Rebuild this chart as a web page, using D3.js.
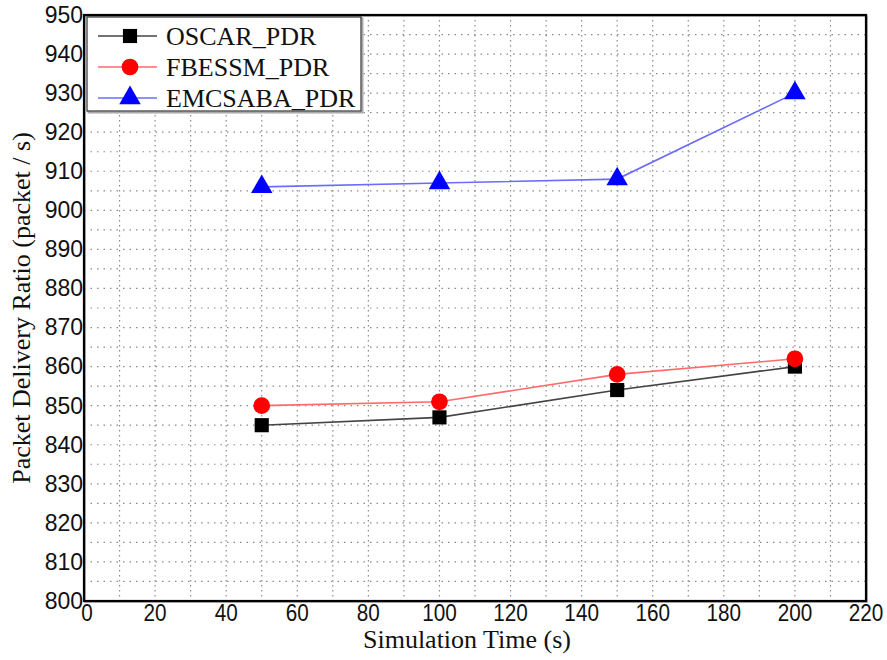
<!DOCTYPE html>
<html>
<head>
<meta charset="utf-8">
<script src="https://cdn.jsdelivr.net/npm/d3@7"></script>
<style>
  html, body { margin: 0; padding: 0; background: #fff; }
  svg { display: block; }
</style>
</head>
<body>
<div id="chart"></div>
<script>
const simulationTime = [50, 100, 150, 200];
const oscarPDR = [845, 847, 854, 860];
const fbessmPDR = [850, 851, 858, 862];
const emcsabaPDR = [906, 907, 908, 930];
const seriesNames = ["OSCAR_PDR", "FBESSM_PDR", "EMCSABA_PDR"];
const xTicks = [0, 20, 40, 60, 80, 100, 120, 140, 160, 180, 200, 220];
const yTicks = [800, 810, 820, 830, 840, 850, 860, 870, 880, 890, 900, 910, 920, 930, 940, 950];
const xLabel = "Simulation Time (s)";
const yLabel = "Packet Delivery Ratio (packet / s)";

const W = 887, H = 660;
const m = { left: 84, right: 21, top: 15, bottom: 59 };
const iw = W - m.left - m.right, ih = H - m.top - m.bottom;

const svg = d3.select("#chart").append("svg").attr("width", W).attr("height", H);
const g = svg.append("g").attr("transform", `translate(${m.left},${m.top})`);

const x = d3.scaleLinear().domain([0, 220]).range([0, iw]);
const y = d3.scaleLinear().domain([800, 950]).range([ih, 0]);

// grid
const gridX = d3.range(10, 220, 10);
const gridY = d3.range(805, 950, 5);
g.append("g").selectAll("line").data(gridX).join("line")
  .attr("x1", d => x(d)).attr("x2", d => x(d)).attr("y1", 0).attr("y2", ih)
  .attr("stroke", "#8a8a8a").attr("stroke-width", 1.2).attr("stroke-dasharray", "1.5,3.5");
g.append("g").selectAll("line").data(gridY).join("line")
  .attr("y1", d => y(d)).attr("y2", d => y(d)).attr("x1", 0).attr("x2", iw)
  .attr("stroke", "#8a8a8a").attr("stroke-width", 1.2).attr("stroke-dasharray", "1.5,5");

// axes
const xAxis = g.append("g").attr("transform", `translate(0,${ih})`)
  .call(d3.axisBottom(x).tickValues(xTicks).tickSize(0).tickPadding(3));
xAxis.select(".domain").remove();
xAxis.selectAll("text").attr("font-family", "Liberation Sans, Arial, sans-serif")
  .attr("font-size", 23).attr("fill", "#111").attr("dy", "0.72em")
  .attr("transform", "scale(0.9,1)")
  .attr("x", function() { return 0; });
xAxis.selectAll(".tick").each(function(d) {
  const t = d3.select(this);
  t.attr("transform", `translate(${x(d)},0)`);
  t.select("text").attr("transform", `translate(${d === 0 ? 3 : 0},0) scale(0.9,1)`);
});

const yAxis = g.append("g")
  .call(d3.axisLeft(y).tickValues(yTicks).tickSize(0).tickPadding(1));
yAxis.select(".domain").remove();
yAxis.selectAll("text").attr("font-family", "Liberation Sans, Arial, sans-serif")
  .attr("font-size", 23).attr("fill", "#111");

// frame
g.append("rect").attr("x", 1).attr("y", 1).attr("width", iw).attr("height", ih)
  .attr("fill", "none").attr("stroke", "#999").attr("stroke-width", 1.5);
g.append("rect").attr("x", 0).attr("y", 0).attr("width", iw).attr("height", ih)
  .attr("fill", "none").attr("stroke", "#000").attr("stroke-width", 2.2);

// series
const series = [
  { name: seriesNames[0], values: oscarPDR, line: "#444", fill: "#000", shape: d3.symbolSquare, size: 200 },
  { name: seriesNames[1], values: fbessmPDR, line: "#ff6a6a", fill: "#ff0000", shape: d3.symbolCircle, size: 220 },
  { name: seriesNames[2], values: emcsabaPDR, line: "#6b6bff", fill: "#0000ff", shape: d3.symbolTriangle, size: 200 }
];
const lineGen = d3.line().x((d, i) => x(simulationTime[i])).y(d => y(d));
series.forEach(s => {
  g.append("path").datum(s.values).attr("d", lineGen)
    .attr("fill", "none").attr("stroke", s.line).attr("stroke-width", 1.6);
  g.append("g").selectAll("path").data(s.values).join("path")
    .attr("transform", (d, i) => `translate(${x(simulationTime[i])},${y(d)})`)
    .attr("d", d3.symbol().type(s.shape).size(s.size))
    .attr("fill", s.fill);
});

// legend
const lg = svg.append("g").attr("transform", "translate(87,17)");
lg.append("rect").attr("x", 1.5).attr("y", 1.5).attr("width", 274).attr("height", 94)
  .attr("fill", "none").attr("stroke", "#aaa").attr("stroke-width", 2);
lg.append("rect").attr("x", 0).attr("y", 0).attr("width", 274).attr("height", 94)
  .attr("fill", "#fff").attr("stroke", "#333").attr("stroke-width", 1.2);
series.forEach((s, i) => {
  const cy = 19 + i * 31;
  lg.append("line").attr("x1", 11).attr("x2", 70).attr("y1", cy).attr("y2", cy)
    .attr("stroke", s.line).attr("stroke-width", 1.6);
  lg.append("path").attr("transform", `translate(43,${cy})`)
    .attr("d", d3.symbol().type(s.shape).size(s.size)).attr("fill", s.fill);
  lg.append("text").attr("x", 79).attr("y", cy).attr("dy", "0.35em")
    .attr("font-family", "Liberation Serif, Times New Roman, serif").attr("font-size", 26)
    .attr("fill", "#111").text(s.name);
});

// axis labels
svg.append("text").attr("x", m.left + iw / 2 - 8).attr("y", 648)
  .attr("text-anchor", "middle").attr("font-family", "Liberation Serif, Times New Roman, serif")
  .attr("font-size", 26).attr("fill", "#111").text(xLabel);
svg.append("text").attr("transform", `translate(30,${m.top + ih / 2}) rotate(-90)`)
  .attr("text-anchor", "middle").attr("font-family", "Liberation Serif, Times New Roman, serif")
  .attr("font-size", 26).attr("fill", "#111").text(yLabel);
</script>
</body>
</html>
